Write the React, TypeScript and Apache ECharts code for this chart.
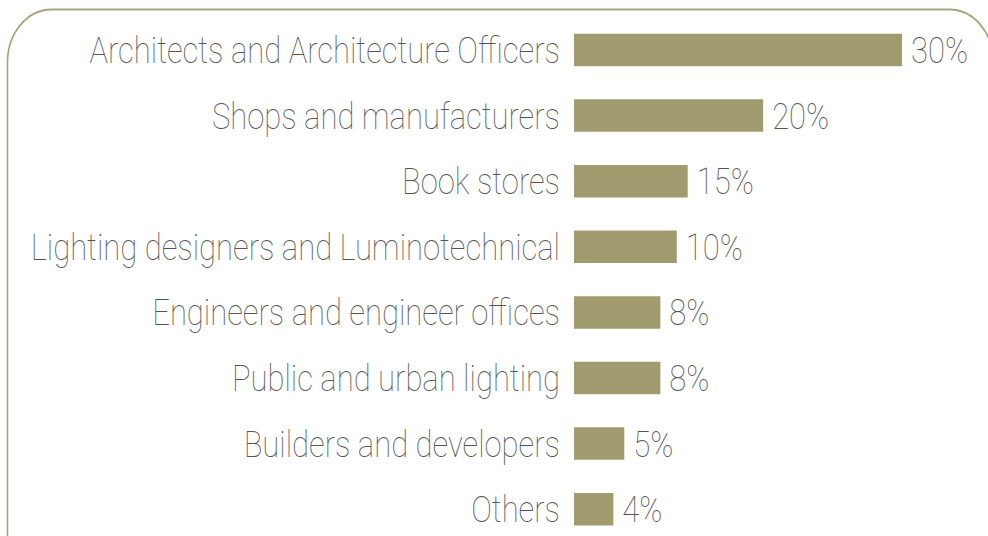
import React, { useEffect, useRef } from "react";
import * as echarts from "echarts";

const categories = [
  "Architects and Architecture Officers",
  "Shops and manufacturers",
  "Book stores",
  "Lighting designers and Luminotechnical",
  "Engineers and engineer offices",
  "Public and urban lighting",
  "Builders and developers",
  "Others",
];
// shares printed next to each bar
const shares = [30, 20, 15, 10, 8, 8, 5, 4];
// bar extents as drawn in the picture (same % units)
const barLengths = [30, 17.3, 10.4, 9.4, 7.9, 7.9, 4.6, 3.6];

const OLIVE = "#a19c70";
const FRAME = "#a8a47c";
const TEXT = "#555555";
const FONT = "Roboto, 'Liberation Sans', sans-serif";
// the reference artwork is stretched vertically
const SY = 1.2;
const W = 988;
const H = 536;

export default function App() {
  const ref = useRef<HTMLDivElement>(null);
  useEffect(() => {
    if (!ref.current) return;
    const chart = echarts.init(ref.current, null, { renderer: "svg" });
    chart.setOption({
      animation: false,
      backgroundColor: "#ffffff",
      grid: { left: 574, top: 50 / SY, width: 328, height: 459.2 / SY, containLabel: false },
      xAxis: {
        type: "value",
        min: 0,
        max: 30,
        show: false,
      },
      yAxis: {
        type: "category",
        data: categories,
        inverse: true,
        boundaryGap: false,
        axisLine: { show: false },
        axisTick: { show: false },
        splitLine: { show: false },
        axisLabel: {
          margin: 14,
          fontSize: 31,
          fontWeight: 100,
          fontFamily: FONT,
          color: TEXT,
        },
      },
      graphic: [
        {
          type: "rect",
          shape: { x: 7.5, y: 9.5 / SY, width: 986, height: 620, r: [44, 44, 0, 0] },
          style: { fill: "none", stroke: FRAME, lineWidth: 1.6 },
          silent: true,
        },
      ],
      series: [
        {
          type: "bar",
          data: barLengths,
          barWidth: 32.5 / SY,
          itemStyle: { color: OLIVE },
          label: {
            show: true,
            position: "right",
            distance: 9,
            fontSize: 31,
            fontWeight: 100,
            fontFamily: FONT,
            color: TEXT,
            formatter: (p: any) => shares[p.dataIndex] + "%",
          },
        },
      ],
    });
    return () => chart.dispose();
  }, []);
  return (
    <div
      style={{ position: "fixed", left: 0, top: 0, width: W, height: H, overflow: "hidden", background: "#fff" }}
    >
      <div
        ref={ref}
        style={{
          width: W,
          height: H / SY,
          transform: `scaleY(${SY})`,
          transformOrigin: "0 0",
        }}
      />
    </div>
  );
}
